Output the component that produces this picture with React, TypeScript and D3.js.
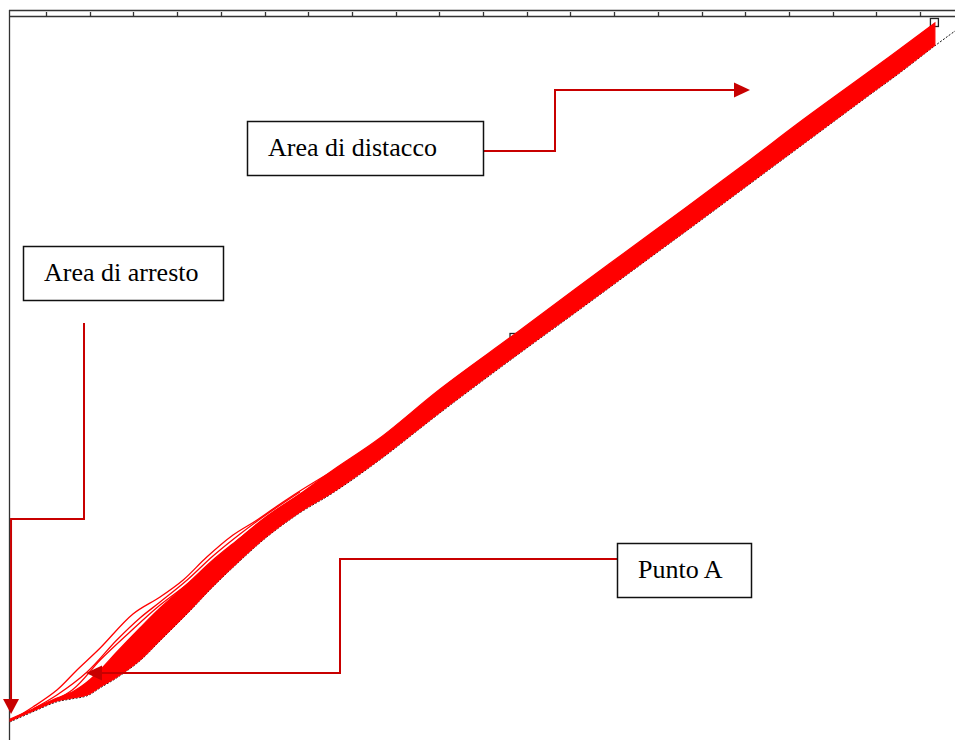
import React, { useEffect, useRef } from 'react';
import * as d3 from 'd3';

const W = 955;
const H = 740;

// top axis ticks (unlabelled)
const tickValues = [1, 2, 3, 4, 5, 6, 7, 8, 9, 10, 11, 12, 13, 14, 15, 16, 17, 18, 19, 20, 21];

// solid band of overlapping cycles: x, lower edge, upper edge
const bandX = [0.18, 0.7, 1.25, 1.6, 1.94, 2.24, 2.62, 3.15, 3.61, 4.23, 4.82, 5.44, 6.06, 6.81, 7.57, 8.64, 10.02, 11.73, 13.11, 14.82, 15.97, 17.11, 18.25, 19.79, 20.54, 21.34];
const bandLow = [0.14, 1.57, 3.0, 3.43, 3.86, 5.0, 6.43, 8.86, 11.71, 15.57, 19.43, 23.14, 26.57, 30.0, 32.86, 37.57, 44.29, 52.29, 58.57, 66.43, 71.71, 77.0, 82.29, 89.43, 92.86, 96.71];
const bandHigh = [0.43, 1.86, 3.43, 4.29, 5.71, 7.43, 10.0, 13.43, 16.29, 19.71, 23.14, 26.29, 29.43, 32.57, 36.0, 40.57, 47.57, 55.43, 61.86, 69.71, 75.0, 80.29, 85.71, 92.71, 96.14, 99.86];

// stray cycles above the band in the loading zone
const stray1X = [0.18, 0.7, 1.25, 1.71, 2.24, 2.99, 3.61, 4.14, 4.68, 5.28, 5.83, 6.29, 6.81, 7.57, 8.35, 8.94, 10.02];
const stray1Y = [0.14, 2.14, 4.57, 7.43, 10.57, 15.43, 17.86, 20.29, 23.57, 26.71, 28.86, 30.86, 33.0, 35.86, 38.43, 40.29, 45.29];
const stray2X = [0.7, 1.25, 1.94, 2.62, 3.15, 3.61, 4.23, 4.82, 5.44, 6.06, 6.81];
const stray2Y = [1.86, 3.86, 7.14, 11.71, 14.86, 17.14, 20.29, 23.71, 26.86, 29.71, 32.86];
const stray3X = [0.7, 1.6, 2.24, 2.92, 3.61, 4.3, 4.98, 5.67, 6.35, 7.27];
const stray3Y = [1.71, 4.57, 8.86, 12.86, 16.71, 20.0, 23.71, 27.43, 30.57, 34.29];

// black reference curve: runs along the band's lower edge, then its tail past the end
const refTailX = [21.87];
const refTailY = [99.14];

// square markers
const markX = [11.71, 21.33];
const markY = [54.93, 99.93];

// annotations: box and arrow tip (in data units)
const notes = [
  { label: 'Area di distacco', box: [247, 121, 236, 54], tip: [17.11, 90.29], route: 'distacco' },
  { label: 'Area di arresto', box: [23, 246, 200, 54], tip: [0.2, 1.14], route: 'arresto' },
  { label: 'Punto A', box: [617, 543, 134, 54], tip: [1.915, 7.0], route: 'punto' },
];

const App = () => {
  const svgRef = useRef<SVGSVGElement>(null);

  useEffect(() => {
    const svg = d3.select(svgRef.current);
    svg.selectAll('*').remove();

    const x = d3.scaleLinear().domain([0, 21]).range([2.3, 920]);
    const y = d3.scaleLinear().domain([0, 100]).range([722, 22]);

    // frame: left border and double top rule with ticks
    const frame = svg.append('g').attr('stroke', '#333').attr('stroke-width', 1.3).attr('fill', 'none');
    frame.append('line').attr('x1', 9.5).attr('x2', 9.5).attr('y1', 10).attr('y2', H);
    frame.append('line').attr('x1', 9).attr('x2', W).attr('y1', 10.5).attr('y2', 10.5);
    frame.append('line').attr('x1', 9).attr('x2', W).attr('y1', 16.5).attr('y2', 16.5);
    frame.selectAll('line.tick')
      .data(tickValues)
      .enter()
      .append('line')
      .attr('class', 'tick')
      .attr('x1', d => Math.round(x(d)) + 0.5)
      .attr('x2', d => Math.round(x(d)) + 0.5)
      .attr('y1', 12)
      .attr('y2', 16.5);

    // markers sit under the red band
    svg.append('g')
      .selectAll('rect')
      .data(markX)
      .enter()
      .append('rect')
      .attr('x', (d, i) => x(d) - 4)
      .attr('y', (d, i) => y(markY[i]) - 4)
      .attr('width', 8)
      .attr('height', 8)
      .attr('fill', 'white')
      .attr('stroke', '#222')
      .attr('stroke-width', 1.3);

    // reference line (mostly hidden under the band)
    const refX = bandX.concat(refTailX);
    const refY = bandLow.concat(refTailY);
    const refLine = d3.line<number>()
      .x(d => x(d))
      .y((d, i) => y(refY[i]) + 0.8)
      .curve(d3.curveCatmullRom);
    svg.append('path')
      .datum(refX)
      .attr('fill', 'none')
      .attr('stroke', '#111')
      .attr('stroke-width', 1)
      .attr('stroke-dasharray', '2,1.5')
      .attr('d', refLine);

    // band
    const band = d3.area<number>()
      .x(d => x(d))
      .y0((d, i) => y(bandLow[i]))
      .y1((d, i) => y(bandHigh[i]))
      .curve(d3.curveCatmullRom);
    svg.append('path')
      .datum(bandX)
      .attr('fill', '#ff0000')
      .attr('stroke', '#ff0000')
      .attr('stroke-width', 1.2)
      .attr('d', band);

    // stray cycles
    const strays = [[stray1X, stray1Y], [stray2X, stray2Y], [stray3X, stray3Y]];
    strays.forEach(([sx, sy]) => {
      const ln = d3.line<number>()
        .x(d => x(d))
        .y((d, i) => y(sy[i]))
        .curve(d3.curveCatmullRom);
      svg.append('path')
        .datum(sx)
        .attr('fill', 'none')
        .attr('stroke', '#ff0000')
        .attr('stroke-width', 1.3)
        .attr('d', ln);
    });

    // annotations
    const arrowColor = '#c80000';
    notes.forEach(n => {
      const [bx, by, bw, bh] = n.box;
      const tx = x(n.tip[0]);
      const ty = y(n.tip[1]);
      let pts: [number, number][] = [];
      let head = '';
      if (n.route === 'distacco') {
        const sy = by + 30;
        pts = [[bx + bw, sy], [555, sy], [555, ty], [tx - 15, ty]];
        head = `M${tx},${ty}L${tx - 16},${ty - 7.5}L${tx - 16},${ty + 7.5}Z`;
      } else if (n.route === 'arresto') {
        pts = [[84, 323], [84, 519], [tx, 519], [tx, ty - 14]];
        head = `M${tx},${ty}L${tx - 8},${ty - 15}L${tx + 8},${ty - 15}Z`;
      } else {
        const sy = by + 16;
        pts = [[bx, sy], [340, sy], [340, ty], [tx + 15, ty]];
        head = `M${tx},${ty}L${tx + 16},${ty - 7.5}L${tx + 16},${ty + 7.5}Z`;
      }
      svg.append('path')
        .attr('d', d3.line()(pts))
        .attr('fill', 'none')
        .attr('stroke', arrowColor)
        .attr('stroke-width', 2);
      svg.append('path').attr('d', head).attr('fill', arrowColor);

      svg.append('rect')
        .attr('x', bx + 0.5)
        .attr('y', by + 0.5)
        .attr('width', bw)
        .attr('height', bh)
        .attr('fill', 'white')
        .attr('stroke', '#111')
        .attr('stroke-width', 1.5);
      svg.append('text')
        .attr('x', bx + 21)
        .attr('y', by + 35)
        .attr('font-family', '"Liberation Serif", "Times New Roman", serif')
        .attr('font-size', 26)
        .attr('fill', '#000')
        .text(n.label);
    });
  }, []);

  return (
    <svg
      ref={svgRef}
      width={W}
      height={H}
      style={{ position: 'absolute', left: 0, top: 0, background: 'white' }}
    ></svg>
  );
};

export default App;
